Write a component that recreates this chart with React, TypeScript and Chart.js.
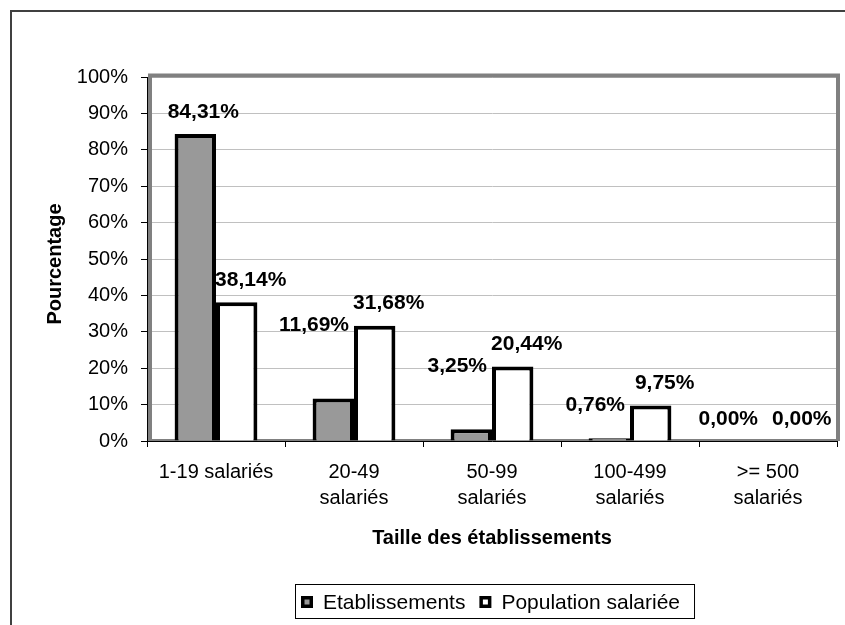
import React, { useEffect, useRef } from "react";
import { Chart, registerables } from "chart.js";

Chart.register(...registerables);

const categories: string[][] = [
  ["1-19 salariés"],
  ["20-49", "salariés"],
  ["50-99", "salariés"],
  ["100-499", "salariés"],
  [">= 500", "salariés"],
];
const seriesNames = ["Etablissements", "Population salariée"];
const etablissements = [84.31, 11.69, 3.25, 0.76, 0.0];
const populationSalariee = [38.14, 31.68, 20.44, 9.75, 0.0];
const yMin = 0;
const yMax = 100;
const yStep = 10;
const xTitle = "Taille des établissements";
const yTitle = "Pourcentage";

const FONT = 'Arial, "Liberation Sans", sans-serif';
const fillColors = ["#999999", "#ffffff"];

const fmt = (v: number) => v.toFixed(2).replace(".", ",") + "%";

const decorPlugin = {
  id: "decor",
  beforeDraw(chart: any) {
    const ctx = chart.ctx;
    ctx.save();
    ctx.fillStyle = "#ffffff";
    ctx.fillRect(0, 0, chart.width, chart.height);
    // outer frame (cropped at right and bottom)
    ctx.strokeStyle = "#404040";
    ctx.lineWidth = 2;
    ctx.beginPath();
    ctx.moveTo(11, chart.height + 5);
    ctx.lineTo(11, 11);
    ctx.lineTo(chart.width + 5, 11);
    ctx.stroke();
    ctx.restore();
  },
  beforeDatasetsDraw(chart: any) {
    const ctx = chart.ctx;
    const { left, top, right, bottom } = chart.chartArea;
    ctx.save();
    ctx.strokeStyle = "#808080";
    ctx.lineWidth = 4;
    ctx.beginPath();
    ctx.moveTo(left + 3, bottom);
    ctx.lineTo(left + 3, top - 1.5);
    ctx.lineTo(right + 1, top - 1.5);
    ctx.lineTo(right + 1, bottom);
    ctx.stroke();
    ctx.lineWidth = 2;
    ctx.beginPath();
    ctx.moveTo(left + 1, bottom - 1);
    ctx.lineTo(right + 3, bottom - 1);
    ctx.stroke();
    ctx.restore();
  },
  afterDraw(chart: any) {
    const ctx = chart.ctx;
    const { left, top, right, bottom } = chart.chartArea;
    const yScale = chart.scales.y;
    const metas = [chart.getDatasetMeta(0), chart.getDatasetMeta(1)];
    const series = [etablissements, populationSalariee];
    ctx.save();
    // data labels
    ctx.fillStyle = "#000";
    ctx.font = `bold 21px ${FONT}`;
    ctx.textBaseline = "middle";
    for (let i = 0; i < categories.length; i++) {
      const gc = (metas[0].data[i].x + metas[1].data[i].x) / 2;
      for (let d = 0; d < 2; d++) {
        const v = series[d][i];
        const o = series[1 - d][i];
        const bar = metas[d].data[i];
        const text = fmt(v);
        if (d === 0 && v < o) {
          ctx.textAlign = "right";
          ctx.fillText(text, gc - 5, yScale.getPixelForValue(o));
        } else if (v === o) {
          ctx.textAlign = d === 0 ? "right" : "left";
          ctx.fillText(text, d === 0 ? gc - 10 : gc + 4, yScale.getPixelForValue(v) - 22);
        } else {
          ctx.textAlign = "center";
          ctx.fillText(text, bar.x + (d === 0 ? 8 : 14), yScale.getPixelForValue(v) - 22);
        }
      }
    }
    // axis titles
    const cx = (left + right) / 2;
    ctx.font = `bold 20px ${FONT}`;
    ctx.textAlign = "center";
    ctx.fillText(xTitle, cx, 538);
    ctx.save();
    ctx.translate(55, (top + bottom) / 2 + 5);
    ctx.rotate(-Math.PI / 2);
    ctx.fillText(yTitle, 0, 0);
    ctx.restore();
    // legend
    ctx.font = `21px ${FONT}`;
    const w0 = ctx.measureText(seriesNames[0]).width;
    const w1 = ctx.measureText(seriesNames[1]).width;
    const padL = 6, sq = 12, gapT = 10, gapItem = 14, padR = 14;
    const boxW = padL + sq + gapT + w0 + gapItem + sq + gapT + w1 + padR;
    const boxH = 34;
    const bx = Math.round(cx + 3 - boxW / 2);
    const by = 584;
    ctx.strokeStyle = "#000";
    ctx.lineWidth = 1;
    ctx.strokeRect(bx + 0.5, by + 0.5, boxW, boxH);
    const my = by + boxH / 2 + 1;
    let x = bx + padL;
    const widths = [w0, w1];
    for (let d = 0; d < 2; d++) {
      ctx.fillStyle = "#000";
      ctx.fillRect(x, my - sq / 2, sq, sq);
      ctx.fillStyle = fillColors[d];
      ctx.fillRect(x + 3.5, my - 2.5, 5, 5);
      ctx.fillStyle = "#000";
      ctx.textAlign = "left";
      ctx.fillText(seriesNames[d], x + sq + gapT, my + 1);
      x += sq + gapT + widths[d] + gapItem;
    }
    ctx.restore();
  },
};

export default function App() {
  const ref = useRef<HTMLCanvasElement | null>(null);
  useEffect(() => {
    if (!ref.current) return;
    const chart = new Chart(ref.current, {
      type: "bar",
      data: {
        labels: categories,
        datasets: [
          {
            label: seriesNames[0],
            data: etablissements,
            backgroundColor: fillColors[0],
            borderColor: "#000",
            borderWidth: 4,
            categoryPercentage: 0.6,
            barPercentage: 1,
          },
          {
            label: seriesNames[1],
            data: populationSalariee,
            backgroundColor: fillColors[1],
            borderColor: "#000",
            borderWidth: 4,
            categoryPercentage: 0.6,
            barPercentage: 1,
          },
        ],
      },
      options: {
        responsive: false,
        animation: false,
        layout: { padding: { top: 77, right: 8, left: 0, bottom: 0 } },
        plugins: { legend: { display: false }, tooltip: { enabled: false } },
        scales: {
          x: {
            grid: {
              display: true,
              drawOnChartArea: false,
              drawTicks: true,
              tickLength: 6,
              tickColor: "#000",
              offset: true,
            },
            border: { display: true, color: "#000", width: 1, z: 1 },
            ticks: {
              color: "#000",
              font: { family: FONT, size: 20, lineHeight: 1.3 },
              padding: 12,
              maxRotation: 0,
              autoSkip: false,
            },
            afterFit: (s: any) => {
              s.height = 184;
            },
          },
          y: {
            min: yMin,
            max: yMax,
            ticks: {
              stepSize: yStep,
              callback: (v: any) => v + "%",
              color: "#000",
              font: { family: FONT, size: 20 },
              padding: 13,
            },
            grid: { color: "#c0c0c0", lineWidth: 1, tickLength: 6, tickColor: "#000" },
            border: { display: true, color: "#000", width: 1, z: 1 },
            afterFit: (s: any) => {
              s.width = 147;
            },
          },
        },
      },
      plugins: [decorPlugin],
    } as any);
    return () => chart.destroy();
  }, []);
  return (
    <div style={{ position: "absolute", left: 0, top: 0, width: 845, height: 625 }}>
      <canvas ref={ref} width={845} height={625} style={{ display: "block" }} />
    </div>
  );
}
